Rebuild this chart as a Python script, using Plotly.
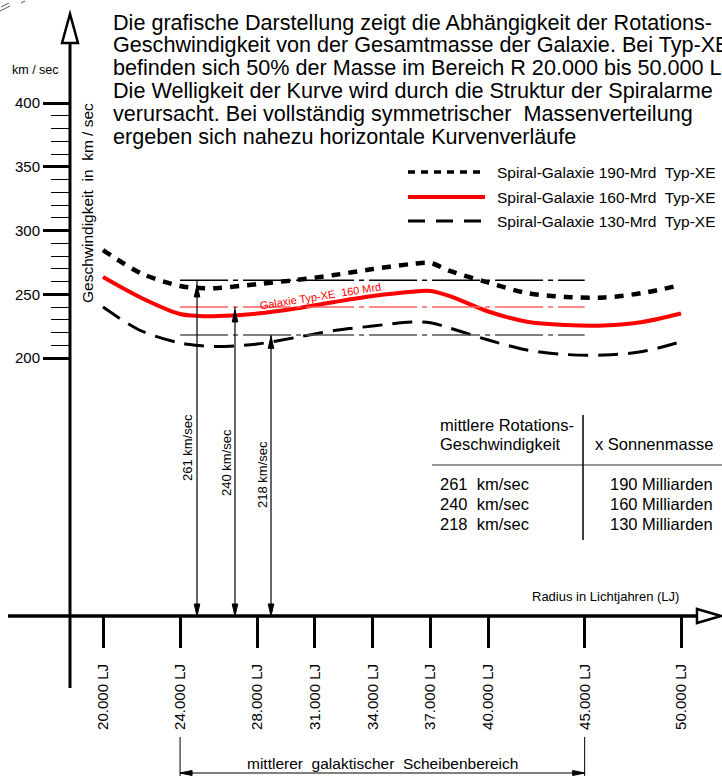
import plotly.graph_objects as go

# ---------------- data ----------------
radius_lj = [20000, 22000, 24000, 25000, 26000, 28000, 30000, 32000, 34000,
             36000, 37000, 38000, 40000, 42000, 44000, 46000, 48000, 50000]
v_190 = [284.7, 266.3, 256.5, 254.9, 255.0, 258.0, 261.2, 265.1, 269.8,
         273.7, 274.5, 268.3, 259.2, 251.0, 247.9, 247.5, 251.0, 257.3]
v_160 = [263.5, 247.1, 234.5, 233.0, 233.0, 234.9, 238.8, 243.9, 248.6,
         252.0, 252.6, 248.6, 236.5, 228.5, 225.9, 225.5, 228.3, 234.9]
v_130 = [240.0, 221.2, 211.8, 209.8, 209.0, 211.0, 216.1, 221.6, 225.1,
         228.3, 227.7, 223.5, 214.1, 206.3, 202.8, 202.4, 205.1, 212.8]

mean_speed = [261, 240, 218]            # km/sec
mean_arrow_r = [24880, 26850, 28720]    # where the arrows are drawn
arrow_tip_v = [257.3, 237.7, 217.0]
mass_mrd = [190, 160, 130]
band_r = [24000, 45000]                 # mittlerer galaktischer Scheibenbereich

x_tickvals = [20000, 24000, 28000, 31000, 34000, 37000, 40000, 45000, 50000]
x_ticktext = ["20.000 LJ", "24.000 LJ", "28.000 LJ", "31.000 LJ", "34.000 LJ",
              "37.000 LJ", "40.000 LJ", "45.000 LJ", "50.000 LJ"]
y_major = [200, 250, 300, 350, 400]
y_minor = [v for v in range(210, 400, 10) if v % 50 != 0]

legend_names = ["Spiral-Galaxie 190-Mrd  Typ-XE",
                "Spiral-Galaxie 160-Mrd  Typ-XE",
                "Spiral-Galaxie 130-Mrd  Typ-XE"]
title_lines = [
    "Die grafische Darstellung zeigt die Abhängigkeit der Rotations-",
    "Geschwindigkeit von der Gesamtmasse der Galaxie. Bei Typ-XE",
    "befinden sich 50% der Masse im Bereich R 20.000 bis 50.000 LJ",
    "Die Welligkeit der Kurve wird durch die Struktur der Spiralarme",
    "verursacht. Bei vollständig symmetrischer  Massenverteilung",
    "ergeben sich nahezu horizontale Kurvenverläufe",
]

# ---------------- geometry ----------------
W, H = 722, 776
R0, R1 = 14654, 52128
V0, V1 = -127.8, 480.8
FONT = "Liberation Sans, Arial, sans-serif"


def px(r):
    return (r - R0) / (R1 - R0) * W


def py(v):
    return (V1 - v) / (V1 - V0) * H


def fx(x):
    return x / W


def fy(y):
    return 1 - y / H


AX_X = 70      # pixel column of the vertical axis
AX_Y = 616     # pixel row of the horizontal axis

fig = go.Figure()

styles = [
    dict(color="black", width=4.5, dash="9px,8px"),
    dict(color="#ff0000", width=4, dash="solid"),
    dict(color="black", width=3, dash="20px,10px"),
]
for vals, st, nm in zip([v_190, v_160, v_130], styles, legend_names):
    fig.add_trace(go.Scatter(x=radius_lj, y=vals, mode="lines", name=nm,
                             line=dict(shape="spline", smoothing=0.9, **st),
                             hoverinfo="skip"))

shapes = []
annos = []


def pline(x0, y0, x1, y1, color="black", width=1, dash="solid"):
    shapes.append(dict(type="line", xref="paper", yref="paper",
                       x0=fx(x0), y0=fy(y0), x1=fx(x1), y1=fy(y1),
                       line=dict(color=color, width=width, dash=dash)))


def ppath(pts, fill="black", color="black", width=1):
    d = "M " + " L ".join(f"{fx(a):.5f},{fy(b):.5f}" for a, b in pts) + " Z"
    shapes.append(dict(type="path", xref="paper", yref="paper", path=d,
                       fillcolor=fill, line=dict(color=color, width=width)))


def text(x, y, s, size, xa="left", ya="middle", color="black", angle=0):
    annos.append(dict(xref="paper", yref="paper", x=fx(x), y=fy(y), text=s,
                      showarrow=False, xanchor=xa, yanchor=ya, textangle=angle,
                      font=dict(family=FONT, size=size, color=color)))


# axes lines + hollow arrow heads
pline(AX_X, 43, AX_X, 688, width=3)
ppath([(AX_X, 14), (AX_X - 8, 43), (AX_X + 8, 43)], fill="white", width=2.5)
pline(8, AX_Y, 697, AX_Y, width=3.5)
ppath([(721, AX_Y), (697, AX_Y - 7), (697, AX_Y + 7)], fill="white", width=2.5)

# mean speed dash-dot lines
dd_cols = ["black", "#ff6060", "#555555"]
for v, c in zip(mean_speed, dd_cols):
    shapes.append(dict(type="line", xref="x", yref="y", x0=band_r[0], x1=band_r[1],
                       y0=v, y1=v, line=dict(color=c, width=1.5, dash="48px,5px,5px,5px")))

# vertical arrows
label_y = [448, 462, 475]
for r, v, tip, ly in zip(mean_arrow_r, mean_speed, arrow_tip_v, label_y):
    x = px(r)
    pline(x, py(v), x, AX_Y, width=1.2)
    ppath([(x, AX_Y), (x - 2.8, AX_Y - 12), (x + 2.8, AX_Y - 12)])
    yt = py(tip)
    ppath([(x, yt), (x - 2.8, yt + 12), (x + 2.8, yt + 12)])
    text(x - 9, ly, f"{v} km/sec", 13, xa="center", angle=-90)

# legend samples
leg_y = [172, 197, 221]
leg_style = [dict(color="black", width=3.5, dash="7px,6px"),
             dict(color="#ff0000", width=4, dash="solid"),
             dict(color="black", width=3, dash="17px,11px")]
for yy, st, nm in zip(leg_y, leg_style, legend_names):
    pline(408, yy, 485, yy, **st)
    text(495, yy, nm, 15.5)

# title text
for i, s in enumerate(title_lines):
    text(111, 22 + i * 22.8, s, 21.6)

# y axis labels
text(35, 70, "km / sec", 12.5, xa="center")
text(88, 203, "Geschwindigkeit  in  km / sec", 15.5, xa="center", angle=-90)

# red curve label
text(320, 296, "Galaxie Typ-XE  160 Mrd", 11, xa="center", color="#ff0000", angle=-9)

# table
pline(432, 465, 722, 465, color="#333333", width=1)
pline(583, 415, 583, 540, color="black", width=1.5)
text(438, 425, "mittlere Rotations-", 16.5)
text(438, 444, "Geschwindigkeit", 16.5)
text(593, 444, "x Sonnenmasse", 16.5)
for i, (v, m) in enumerate(zip(mean_speed, mass_mrd)):
    text(438, 484 + i * 20, f"{v}  km/sec", 16.5)
    text(715, 484 + i * 20, f"{m} Milliarden", 16.5, xa="right")

# x axis caption
text(605, 596, "Radius in Lichtjahren (LJ)", 13, xa="center")

# dimension line for disc region
xa0, xa1 = px(band_r[0]), px(band_r[1])
pline(xa0, 737, xa0, 776, width=1)
pline(xa1, 737, xa1, 776, width=1)
pline(xa0, 773, xa1, 773, width=1.2)
ppath([(xa0, 773), (xa0 + 12, 770.5), (xa0 + 12, 775.5)])
ppath([(xa1, 773), (xa1 - 12, 770.5), (xa1 - 12, 775.5)])
text((xa0 + xa1) / 2, 763, "mittlerer  galaktischer  Scheibenbereich", 15.5, xa="center")

# small artefact strokes in the top-left corner
pline(0, 11, 10, 6, color="#555555", width=1)
pline(1, 7, 9, 3, color="#555555", width=1)
pline(21, 3, 25, 1, color="#555555", width=1)

fig.update_layout(
    width=W, height=H, margin=dict(l=0, r=0, t=0, b=0, pad=0),
    paper_bgcolor="white", plot_bgcolor="white", showlegend=False,
    shapes=shapes, annotations=annos,
    font=dict(family=FONT, color="black"),
    xaxis=dict(range=[R0, R1], showgrid=False, zeroline=False, showline=False,
               anchor="free", position=fy(AX_Y), automargin=False,
               tickmode="array", tickvals=x_tickvals, ticktext=x_ticktext,
               ticks="outside", ticklen=31, tickwidth=3, tickcolor="black",
               tickangle=-90, ticklabelstandoff=10,
               tickfont=dict(family=FONT, size=15, color="black")),
    yaxis=dict(range=[V0, V1], showgrid=False, zeroline=False, showline=False,
               anchor="free", position=fx(AX_X), automargin=False,
               tickmode="array", tickvals=y_major,
               ticks="outside", ticklen=27, tickwidth=3, tickcolor="black",
               tickfont=dict(family=FONT, size=15, color="black"),
               minor=dict(tickmode="array", tickvals=y_minor, ticks="outside",
                          ticklen=19, tickwidth=1.2, tickcolor="black")),
)

fig.write_html("out.html",
               config={"displayModeBar": False},
               post_script="document.body.style.margin='0';"
                           "document.body.style.overflow='hidden';")
